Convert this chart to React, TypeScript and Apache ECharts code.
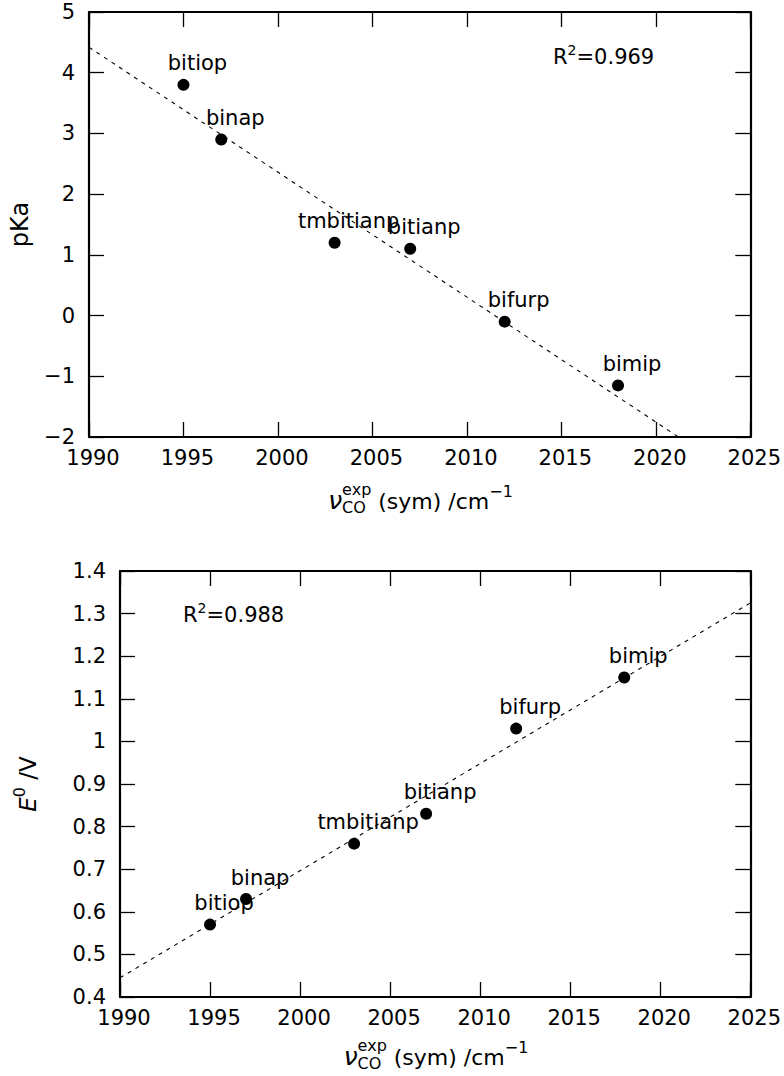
import React, { useEffect, useRef } from "react";
import * as echarts from "echarts";

const ligands = ["bitiop", "binap", "tmbitianp", "bitianp", "bifurp", "bimip"];
const nuCO = [1995, 1997, 2003, 2007, 2012, 2018];
const pKa = [3.8, 2.9, 1.2, 1.1, -0.1, -1.15];
const E0 = [0.57, 0.63, 0.76, 0.83, 1.03, 1.15];
const pKaFitX = [1990, 2021.2];
const pKaFitY = [4.42, -2];
const E0FitX = [1990, 2025];
const E0FitY = [0.445, 1.325];
const r2Top = "0.969";
const r2Bottom = "0.988";

const FONT = "DejaVu Sans";
const W = 784;
const H = 1076;
const G0 = { left: 89, top: 12, width: 663, height: 425 };
const G1 = { left: 120, top: 571, width: 632, height: 426 };

let ctx: CanvasRenderingContext2D | null = null;
function measure(text: string, size: number, style = "normal") {
  if (!ctx) ctx = document.createElement("canvas").getContext("2d");
  if (!ctx) return text.length * size * 0.6;
  ctx.font = `${style} ${size}px "${FONT}"`;
  return ctx.measureText(text).width;
}

type Piece = { text: string; size: number; style?: string; dy: number; stackWith?: boolean };

function layout(pieces: Piece[]) {
  const children: any[] = [];
  let x = 0;
  let prevStart = 0;
  for (const p of pieces) {
    const w = measure(p.text, p.size, p.style || "normal");
    let sx = x;
    if (p.stackWith) {
      sx = prevStart;
      x = Math.max(x, prevStart + w);
    } else {
      x = sx + w;
    }
    prevStart = sx;
    children.push({
      type: "text",
      x: sx,
      y: p.dy - p.size * 0.36,
      style: {
        text: p.text,
        fontSize: p.size,
        fontFamily: FONT,
        fontStyle: p.style || "normal",
        fill: "#000",
        align: "left",
        verticalAlign: "middle",
      },
    });
  }
  return { children, width: x };
}

function xName(cx: number, baseline: number) {
  const { children, width } = layout([
    { text: "ν", size: 25, style: "italic", dy: 0 },
    { text: "exp", size: 16, dy: -14 },
    { text: "CO", size: 16, dy: 4, stackWith: true },
    { text: " (sym) /cm", size: 22, dy: 0 },
    { text: "−1", size: 16, dy: -12 },
  ]);
  return { type: "group", x: cx - width / 2, y: baseline, children };
}

function yName(pieces: Piece[], baselineX: number, cy: number) {
  const { children, width } = layout(pieces);
  children.forEach((c) => (c.x -= width / 2));
  return {
    type: "group",
    x: baselineX,
    y: cy,
    rotation: Math.PI / 2,
    children,
  };
}

function r2(x: number, baseline: number, val: string) {
  const { children } = layout([
    { text: "R", size: 21, dy: 0 },
    { text: "2", size: 14, dy: -10 },
    { text: "=" + val, size: 21, dy: 0 },
  ]);
  return { type: "group", x, y: baseline, children };
}

const fmtMinus = (v: number) => String(v).replace("-", "−");

function axisPair(gridIndex: number, min: number, max: number, interval: number, isX: boolean) {
  const common = {
    gridIndex,
    type: "value",
    min,
    max,
    interval,
    splitLine: { show: false },
    axisLine: { show: true, onZero: false, lineStyle: { color: "#000", width: 2.2 } },
    axisTick: { show: true, inside: true, length: 15, lineStyle: { color: "#000", width: 1.3 } },
  };
  const main = {
    ...common,
    position: isX ? "bottom" : "left",
    axisLabel: {
      show: true,
      color: "#000",
      fontSize: 21,
      fontFamily: FONT,
      margin: isX ? 10 : 14,
      padding: isX ? [0, 0, 0, 8] : 0,
      formatter: fmtMinus,
      showMinLabel: true,
      showMaxLabel: true,
    },
  };
  const mirror = {
    ...common,
    position: isX ? "top" : "right",
    axisLabel: { show: false },
  };
  return [main, mirror];
}

function scatterSeries(xi: number, yi: number, ys: number[]) {
  return {
    type: "scatter",
    xAxisIndex: xi,
    yAxisIndex: yi,
    symbol: "circle",
    symbolSize: 12,
    itemStyle: { color: "#000", opacity: 1 },
    data: nuCO.map((x, i) => ({ value: [x, ys[i]], name: ligands[i] })),
    label: {
      show: true,
      position: "top",
      distance: 5,
      offset: [14, 0],
      formatter: (p: any) => p.name,
      color: "#000",
      opacity: 1,
      fontSize: 21,
      fontFamily: FONT,
    },
    z: 3,
  };
}

function fitSeries(xi: number, yi: number, xs: number[], ys: number[]) {
  return {
    type: "line",
    xAxisIndex: xi,
    yAxisIndex: yi,
    symbol: "none",
    silent: true,
    data: xs.map((x, i) => [x, ys[i]]),
    lineStyle: { color: "#000", width: 1.1, type: [4, 5] },
    z: 2,
  };
}

export default function App() {
  const ref = useRef<HTMLDivElement>(null);
  useEffect(() => {
    if (!ref.current) return;
    const chart = echarts.init(ref.current, undefined, { renderer: "svg" });
    const [x0, x0m] = axisPair(0, 1990, 2025, 5, true);
    const [y0, y0m] = axisPair(0, -2, 5, 1, false);
    const [x1, x1m] = axisPair(1, 1990, 2025, 5, true);
    const [y1, y1m] = axisPair(1, 0.4, 1.4, 0.1, false);
    chart.setOption({
      animation: false,
      backgroundColor: "#fff",
      textStyle: { fontFamily: FONT },
      grid: [
        { ...G0, containLabel: false },
        { ...G1, containLabel: false },
      ],
      xAxis: [x0, x0m, x1, x1m],
      yAxis: [y0, y0m, y1, y1m],
      series: [
        fitSeries(0, 0, pKaFitX, pKaFitY),
        scatterSeries(0, 0, pKa),
        fitSeries(2, 2, E0FitX, E0FitY),
        scatterSeries(2, 2, E0),
      ],
      graphic: [
        xName(G0.left + G0.width / 2, 509),
        xName(G1.left + G1.width / 2, 1065),
        yName([{ text: "pKa", size: 24, dy: 0 }], 29, G0.top + G0.height / 2),
        yName(
          [
            { text: "E", size: 23, style: "italic", dy: 0 },
            { text: "0", size: 16, dy: -11 },
            { text: " /V", size: 23, dy: 0 },
          ],
          36,
          G1.top + G1.height / 2
        ),
        r2(553, 65, r2Top),
        r2(183, 623, r2Bottom),
      ],
    });
    return () => chart.dispose();
  }, []);
  return (
    <div
      ref={ref}
      style={{ position: "absolute", left: 0, top: 0, width: W, height: H }}
    />
  );
}
